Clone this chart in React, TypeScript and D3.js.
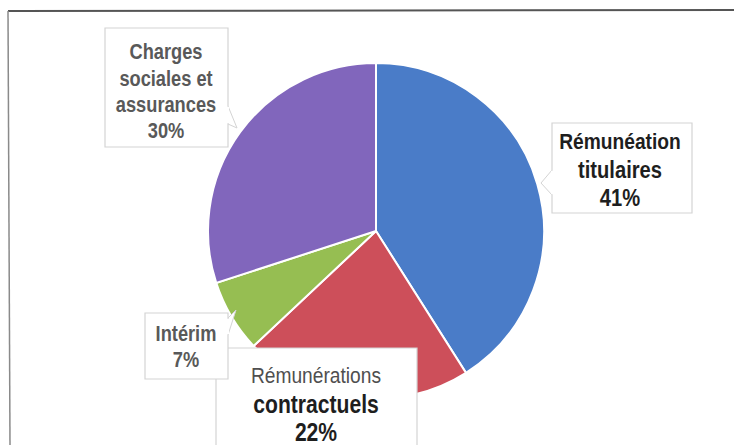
import React from "react";
import * as d3 from "d3";

const categories = [
  "Rémunéation titulaires",
  "Rémunérations contractuels",
  "Intérim",
  "Charges sociales et assurances",
];
const values = [41, 22, 7, 30];
const labelLines = [
  ["Rémunéation", "titulaires", "41%"],
  ["Rémunérations", "contractuels", "22%"],
  ["Intérim", "7%"],
  ["Charges", "sociales et", "assurances", "30%"],
];
const colors = ["#4a7cc8", "#cd4f5a", "#96be52", "#8166bc"];

const W = 734;
const H = 445;
const cx = 376;
const cy = 231;
const R = 168;

type Box = {
  x: number; y: number; w: number; h: number;
  ptr?: [number, number, number, number, number, number];
  lineY: number[];
  size: number[];
  weight: number[];
  fill: string[];
  cxText: number;
};

const boxes: Box[] = [
  {
    x: 552, y: 123, w: 140, h: 90,
    ptr: [552, 170, 552, 195, 541, 183],
    lineY: [149, 178, 206], size: [20, 21, 21], weight: [700, 700, 700],
    fill: ["#1e1e1e", "#1e1e1e", "#1e1e1e"], cxText: 620,
  },
  {
    x: 216, y: 348, w: 201, h: 110,
    lineY: [383, 413, 441], size: [20, 22, 22], weight: [500, 700, 700],
    fill: ["#4f4f4f", "#1e1e1e", "#1e1e1e"], cxText: 316,
  },
  {
    x: 145, y: 313, w: 83, h: 66,
    ptr: [228, 318, 228, 335, 236, 310],
    lineY: [341, 367], size: [19, 19], weight: [700, 700],
    fill: ["#595959", "#595959"], cxText: 186,
  },
  {
    x: 105, y: 28, w: 123, h: 119,
    ptr: [228, 106, 228, 124, 237, 128],
    lineY: [59, 86, 112, 138], size: [19, 19, 19, 19], weight: [700, 700, 700, 700],
    fill: ["#595959", "#595959", "#595959", "#595959"], cxText: 166,
  },
];

export default function App() {
  const pie = d3.pie<number>().sort(null).startAngle(0).endAngle(2 * Math.PI);
  const arcs = pie(values);
  const arcGen = d3.arc<d3.PieArcDatum<number>>().innerRadius(0).outerRadius(R);

  return (
    <svg
      width={W}
      height={H}
      style={{ position: "absolute", left: 0, top: 0, background: "#fff" }}
      fontFamily="'Liberation Sans', Arial, sans-serif"
    >
      <rect x={0} y={0} width={W} height={H} fill="#fff" />
      <line x1={8} y1={11} x2={W} y2={10} stroke="#555" strokeWidth={2} />
      <line x1={8} y1={11} x2={10} y2={H} stroke="#8a8a8a" strokeWidth={1.5} />
      <g transform={`translate(${cx},${cy})`}>
        {arcs.map((a, i) => (
          <path
            key={categories[i]}
            d={arcGen(a) || ""}
            fill={colors[i]}
            stroke="#fff"
            strokeWidth={2}
          />
        ))}
      </g>
      {boxes.map((b, i) => {
        const d = `M${b.x},${b.y}H${b.x + b.w}V${b.y + b.h}H${b.x}Z`;
        return (
          <g key={categories[i] + "-label"}>
            {b.ptr && (
              <path
                d={`M${b.ptr[0]},${b.ptr[1]}L${b.ptr[4]},${b.ptr[5]}L${b.ptr[2]},${b.ptr[3]}Z`}
                fill="#fff"
                stroke="#d4d4d4"
                strokeWidth={1}
              />
            )}
            <path d={d} fill="#fff" stroke="#d4d4d4" strokeWidth={1.2} />
            {b.ptr && (
              <line
                x1={b.ptr[0]}
                y1={b.ptr[1] + 0.8}
                x2={b.ptr[2]}
                y2={b.ptr[3] - 0.8}
                stroke="#fff"
                strokeWidth={2}
              />
            )}
            {labelLines[i].map((t, j) => (
              <text
                key={t}
                transform={`translate(${b.cxText},${b.lineY[j]}) scale(0.96,1.13)`}
                textAnchor="middle"
                fontSize={b.size[j]}
                fontWeight={b.weight[j]}
                fill={b.fill[j]}
              >
                {t}
              </text>
            ))}
          </g>
        );
      })}
    </svg>
  );
}
